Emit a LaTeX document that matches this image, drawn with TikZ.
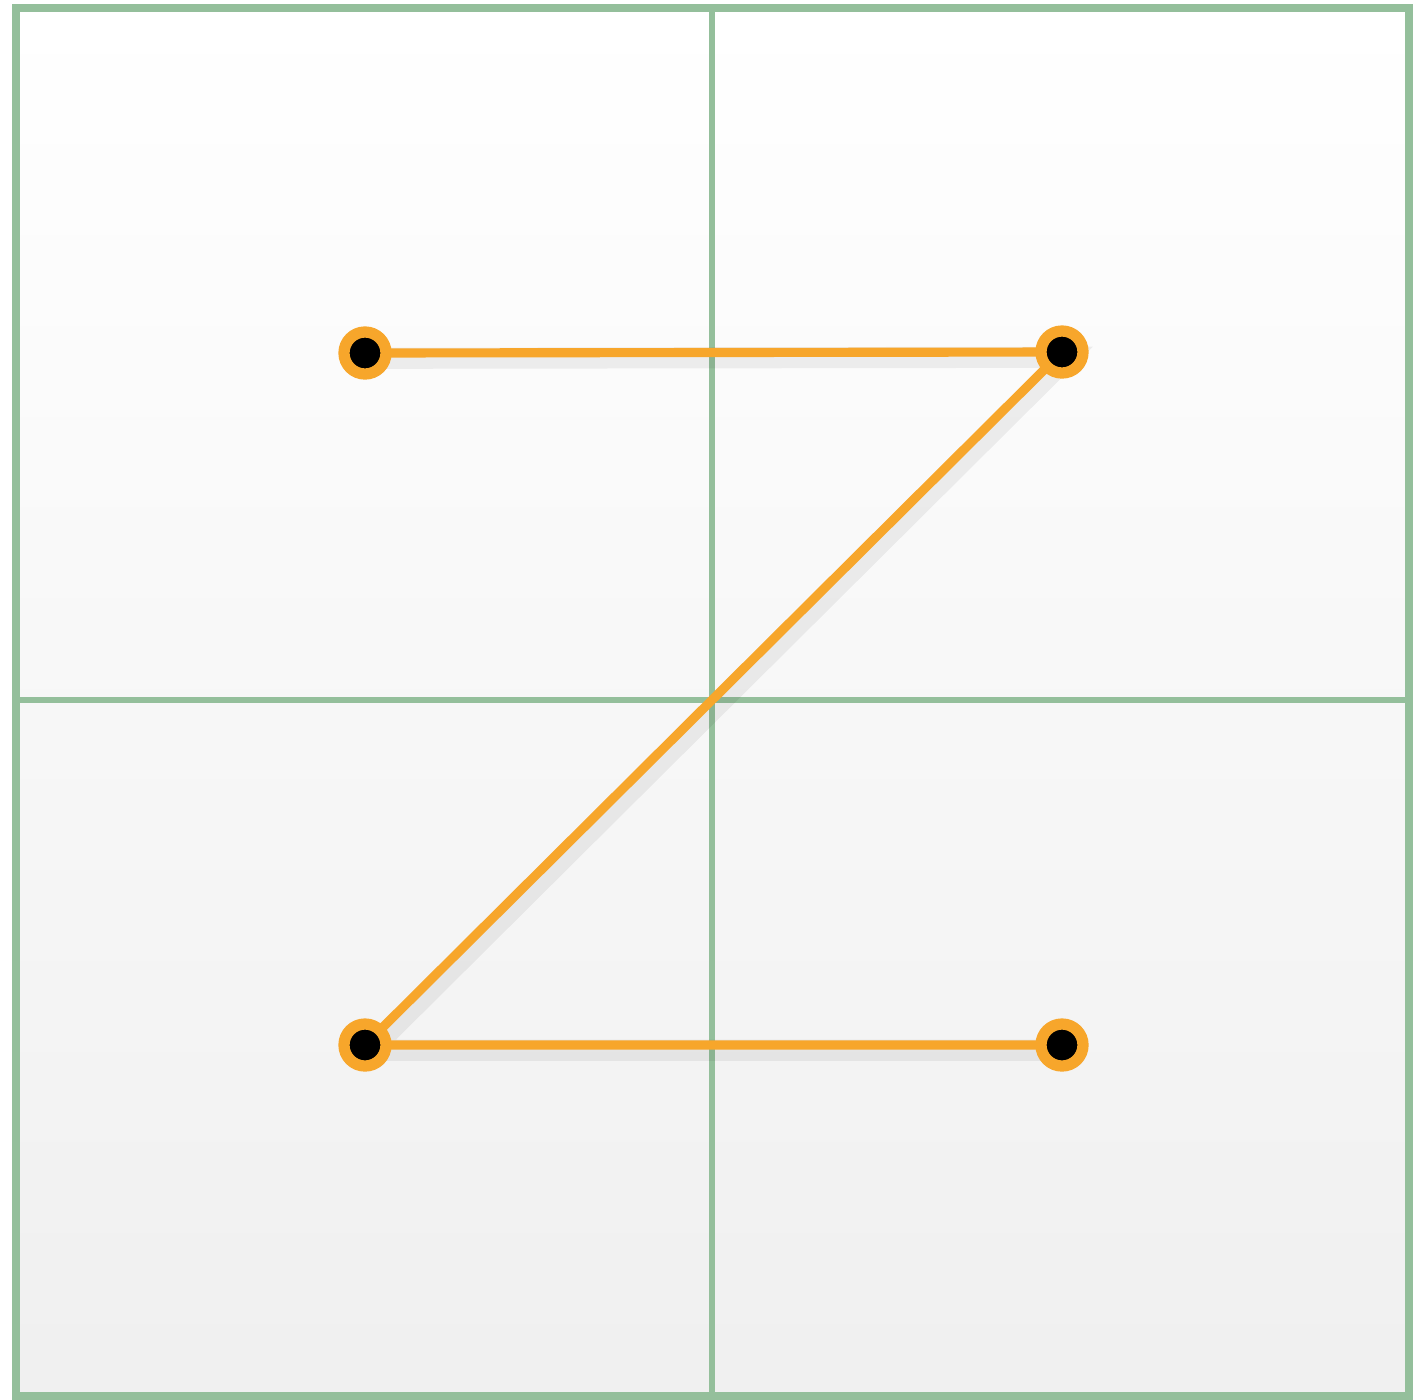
\documentclass[tikz,border=0pt]{standalone}
\usepackage{tikz}
\usetikzlibrary{shadows}
\usepackage{xcolor}

\definecolor{gridgreen}{HTML}{94BF9B}
\definecolor{zorange}{HTML}{F7A62B}

\pgfdeclarelayer{panel}
\pgfdeclarelayer{lines}
\pgfsetlayers{panel,lines,main}

\begin{document}
\begin{tikzpicture}[x=0.01cm, y=-0.01cm,
    zline/.style={draw=zorange, line width=2.6pt, line cap=round},
    zdot/.style={circle, fill=black, draw=zorange, line width=3.2pt, minimum size=0.42cm, inner sep=0pt,
      drop shadow={shadow xshift=0.04cm, shadow yshift=-0.04cm, opacity=0.2}}]
  \useasboundingbox (0,0) rectangle (1415,1399);
  % background panel and grid
  \begin{pgfonlayer}{panel}
    \shade[top color=white, bottom color=black!6] (16,8) rectangle (1409,1396);
    \draw[draw=gridgreen, line width=2.2pt] (16,8) rectangle (1409,1396);
    \draw[draw=gridgreen, line width=1.7pt] (712,8) -- (712,1396);
    \draw[draw=gridgreen, line width=1.7pt] (16,700) -- (1409,700);
  \end{pgfonlayer}
  % the four points
  \node[zdot] (p1) at (365,353) {};
  \node[zdot] (p2) at (1062,352) {};
  \node[zdot] (p3) at (365,1045) {};
  \node[zdot] (p4) at (1062,1045) {};
  % the Z path
  \begin{pgfonlayer}{lines}
    \draw[zline, preaction={draw=black, opacity=0.06, line width=6pt, transform canvas={xshift=1.5pt, yshift=-1.5pt}}]
      (p1.center) -- (p2.center) -- (p3.center) -- (p4.center);
  \end{pgfonlayer}
\end{tikzpicture}
\end{document}
